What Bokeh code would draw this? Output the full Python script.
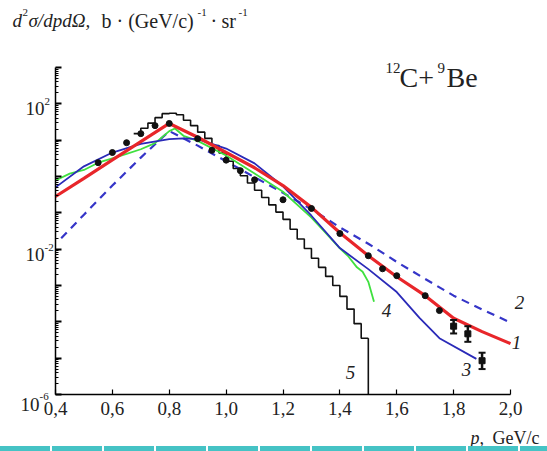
from bokeh.plotting import figure
from bokeh.models import Range1d, FixedTicker, Label, Div, CustomJSTickFormatter
from bokeh.layouts import column
from bokeh.embed import file_html
from bokeh.resources import INLINE

# ---------------- data (log10 of d2sigma/dp dOmega) ----------------
# curve 1 (red)
p_curve1 = [0.40, 0.50, 0.60, 0.70, 0.80, 0.90, 1.00, 1.10, 1.20, 1.30, 1.40, 1.50, 1.60, 1.70, 1.80, 1.90, 2.00]
lg_curve1 = [-0.55, -0.05, 0.46, 0.96, 1.46, 1.08, 0.66, 0.24, -0.25, -0.85, -1.55, -2.18, -2.76, -3.28, -3.90, -4.27, -4.60]
# curve 2 (blue dashed)
p_curve2 = [0.42, 0.50, 0.60, 0.70, 0.80, 0.90, 1.00, 1.10, 1.20, 1.30, 1.40, 1.50, 1.60, 1.70, 1.80, 1.90, 2.00]
lg_curve2 = [-1.70, -1.05, -0.25, 0.52, 1.25, 0.85, 0.42, -0.02, -0.45, -0.90, -1.40, -1.85, -2.35, -2.82, -3.28, -3.66, -4.02]
# curve 3 (blue solid)
p_curve3 = [0.40, 0.50, 0.60, 0.70, 0.80, 0.85, 0.90, 1.00, 1.10, 1.20, 1.30, 1.40, 1.50, 1.60, 1.68, 1.75, 1.88]
lg_curve3 = [-0.30, 0.28, 0.66, 0.90, 1.03, 1.05, 1.03, 0.77, 0.36, -0.27, -1.08, -1.97, -2.55, -3.18, -3.89, -4.45, -5.02]
# curve 4 (green)
p_curve4 = [0.40, 0.45, 0.50, 0.55, 0.60, 0.65, 0.70, 0.75, 0.80, 0.82, 0.85, 0.90, 1.00, 1.10, 1.20, 1.30, 1.35, 1.40, 1.43, 1.46, 1.48, 1.50, 1.52]
lg_curve4 = [-0.11, 0.08, 0.18, 0.38, 0.50, 0.62, 0.75, 0.92, 1.25, 1.32, 1.12, 0.98, 0.58, 0.08, -0.42, -1.13, -1.55, -1.98, -2.20, -2.50, -2.62, -2.90, -3.45]
# curve 5 (black histogram): left bin edges and values, last edge
hist_edges = [0.675, 0.700, 0.725, 0.750, 0.775, 0.800, 0.825, 0.850, 0.875, 0.900, 0.925,
              0.950, 0.975, 1.000, 1.025, 1.050, 1.075, 1.100, 1.125, 1.150, 1.175, 1.200,
              1.225, 1.250, 1.275, 1.300, 1.325, 1.350, 1.375, 1.400, 1.425, 1.450, 1.475]
hist_lg = [1.18, 1.33, 1.47, 1.62, 1.73, 1.74, 1.70, 1.55, 1.40, 1.22, 1.05,
           0.85, 0.65, 0.42, 0.22, 0.02, -0.18, -0.38, -0.58, -0.78, -0.98, -1.18,
           -1.45, -1.72, -1.98, -2.25, -2.50, -2.75, -3.00, -3.30, -3.65, -4.05, -4.45]
hist_last_edge = 1.5
# experimental points
p_data = [0.55, 0.60, 0.65, 0.70, 0.75, 0.80, 0.90, 0.95, 1.00, 1.05, 1.10, 1.20, 1.30, 1.40, 1.50, 1.55, 1.60, 1.70, 1.75]
lg_data = [0.38, 0.66, 0.93, 1.18, 1.40, 1.46, 1.04, 0.72, 0.45, 0.16, -0.09, -0.64, -0.88, -1.57, -2.18, -2.54, -2.73, -3.28, -3.69]
# points with visible error bars
p_err = [1.80, 1.85, 1.90]
lg_err = [-4.12, -4.33, -5.07]
lg_err_lo = [-4.32, -4.55, -5.30]
lg_err_hi = [-3.95, -4.12, -4.85]

x_ticks = [0.4, 0.6, 0.8, 1.0, 1.2, 1.4, 1.6, 1.8, 2.0]
x_tick_labels = ["0,4", "0,6", "0,8", "1,0", "1,2", "1,4", "1,6", "1,8", "2,0"]
y_label_exps = [2, -2, -6]
curve_names = ["1", "2", "3", "4", "5"]

# ---------------- layout ----------------
W, H = 547, 446
FL, FR, FT, FB = 55, 510, 67, 394      # where the axes box sits, in canvas pixels
X0, X1 = 0.4, 2.0
LY0, LY1 = -6, 3
SERIF = "Liberation Serif"


def pw(vals):
    return [10.0 ** v for v in vals]


def dx(px):
    return X0 + (px - FL) * (X1 - X0) / (FR - FL)


def dy(py):
    return 10.0 ** (LY1 - (py - FT) * (LY1 - LY0) / (FB - FT))


def ypx(lg):
    return FT + (LY1 - lg) * (FB - FT) / (LY1 - LY0)


p = figure(width=W, height=H, x_range=Range1d(dx(0), dx(W)), y_range=Range1d(dy(H), dy(0)),
           y_axis_type="log", output_backend="svg", toolbar_location=None,
           min_border=0, min_border_left=0, min_border_right=0, min_border_top=0, min_border_bottom=0)
p.outline_line_color = None
p.grid.visible = False
p.background_fill_color = "white"
p.border_fill_color = "white"

xa = p.xaxis[0]
xa.fixed_location = 10.0 ** LY0
xa.bounds = (X0, X1)
xa.ticker = FixedTicker(ticks=x_ticks)
xa.major_label_overrides = {t: s for t, s in zip(x_ticks, x_tick_labels)}
xa.major_tick_in = 5
xa.major_tick_out = 0
xa.minor_tick_line_color = None
xa.axis_line_width = 1.5
xa.major_tick_line_width = 1.2
xa.major_label_text_font = SERIF
xa.major_label_text_font_size = "19px"
xa.major_label_text_color = "#222222"
xa.major_label_standoff = 7

ya = p.yaxis[0]
ya.fixed_location = X0
ya.bounds = (10.0 ** LY0, 10.0 ** LY1)
ya.ticker = FixedTicker(ticks=[10.0 ** k for k in range(LY0, LY1 + 1)],
                        minor_ticks=[m * 10.0 ** k for k in range(LY0, LY1) for m in range(2, 10)])
ya.major_tick_in = 6
ya.major_tick_out = 0
ya.minor_tick_in = 3
ya.minor_tick_out = 0
ya.axis_line_width = 1.5
ya.major_tick_line_width = 2
ya.minor_tick_line_width = 1
ya.formatter = CustomJSTickFormatter(code="return ' ';")
ya.major_label_standoff = 0

# curves
p.line(p_curve2, pw(lg_curve2), line_color="#3535c8", line_width=2.2, line_dash="8 6")
hx = hist_edges + [hist_last_edge]
hy = pw(hist_lg) + [10.0 ** hist_lg[-1]]
p.step(hx, hy, mode="after", line_color="#111111", line_width=1.6)
p.segment(x0=[hist_last_edge], y0=[10.0 ** hist_lg[-1]], x1=[hist_last_edge], y1=[10.0 ** LY0],
          line_color="#111111", line_width=1.6)
p.line(p_curve4, pw(lg_curve4), line_color="#3fe03f", line_width=1.8)
p.line(p_curve3, pw(lg_curve3), line_color="#2a2ab8", line_width=1.8)
p.line(p_curve1, pw(lg_curve1), line_color="#e8262a", line_width=3.2)

# data points
p.scatter(p_data, pw(lg_data), size=6, marker="circle", fill_color="#111111", line_color="#111111")
p.segment(x0=p_err, y0=pw(lg_err_lo), x1=p_err, y1=pw(lg_err_hi), line_color="#111111", line_width=2.5)
p.scatter(p_err, pw(lg_err_lo), marker="dash", size=7, line_color="#111111", line_width=2)
p.scatter(p_err, pw(lg_err_hi), marker="dash", size=7, line_color="#111111", line_width=2)
p.scatter(p_err, pw(lg_err), marker="square", size=6, fill_color="#111111", line_color="#111111")


def lab(px, py, text, size, style="normal", align="left"):
    # (px, py): left/center edge and vertical middle of the text, in canvas pixels
    p.add_layout(Label(x=dx(px), y=dy(py), text=text, text_font=SERIF, text_font_size=size,
                       text_font_style=style, text_align=align, text_baseline="middle",
                       text_color="#222222"))


# y tick labels 10^n
for e in y_label_exps:
    ty = ypx(e)
    if e == LY0:
        lab(39, ty + 10, "10", "19px", align="right")
        lab(39, ty + 2, str(e), "11px")
    else:
        lab(44, ty + 5, "10", "19px", align="right")
        lab(44, ty - 2, str(e), "11px")

# curve numbers
curve_label_px = [(516, 342), (519, 302), (466, 369), (386, 310), (350, 372)]
for name, (cx, cy) in zip(curve_names, curve_label_px):
    lab(cx, cy, name, "19px", style="italic", align="center")

# reaction label
lab(385, 67, "12", "15px")
lab(399, 77, "C+", "28px")
lab(437, 67, "9", "15px")
lab(446, 77, "Be", "28px")

# y-axis title (top left)
lab(12, 20, "d", "19px", style="italic")
lab(22, 12, "2", "11px")
lab(28, 20, "σ/dpdΩ,", "19px", style="italic")
lab(101, 20, "b · (GeV/c)", "20px")
lab(197, 12, "-1", "11px")
lab(210, 20, "·", "20px")
lab(221, 20, "sr", "20px")
lab(238, 12, "-1", "11px")

# x-axis title
lab(470, 437, "p,", "18px", style="italic")
lab(492, 437, "GeV/c", "18px")

band = Div(text="", width=W, height=5, margin=(0, 0, 0, 0),
           styles={"width": "547px", "height": "5px",
                   "background": "repeating-linear-gradient(90deg, #45c3c5 0px, #45c3c5 50px, #ffffff 50px, #ffffff 52px)"})

layout = column(p, band, spacing=0)
open("out.html", "w").write(file_html(layout, INLINE))
